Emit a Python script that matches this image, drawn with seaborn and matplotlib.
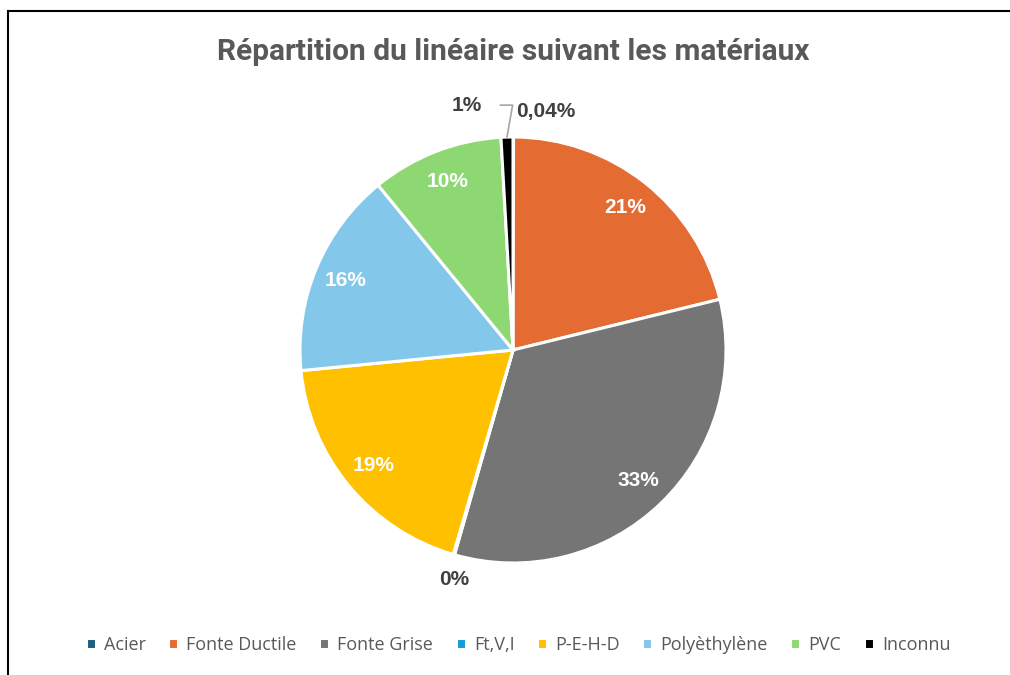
import numpy as np
import matplotlib
matplotlib.use("Agg")
import matplotlib.pyplot as plt
from matplotlib.patches import Rectangle
import seaborn as sns

# ---------------  Data  ---------------
materials = ['Acier', 'Fonte Ductile', 'Fonte Grise', 'Ft,V,I',
             'P-E-H-D', 'Polyèthylène', 'PVC', 'Inconnu']
shares = [0.04, 21.1, 33.2, 0.1, 18.9, 15.6, 10.0, 0.9]
pct_labels = ['0,04%', '21%', '33%', '0%', '19%', '16%', '10%', '1%']
colors = ['#1F5F80', '#E46C32', '#757575', '#0F9ED5',
          '#FFC000', '#83C8EA', '#8ED874', '#000000']

# ---------------  Style  ---------------
sns.set_theme(style='white')
plt.rcParams['font.family'] = ['Open Sans', 'DejaVu Sans']
palette = sns.color_palette(colors)

fig = plt.figure(figsize=(10.1, 6.75), dpi=100)
W, H = 1010, 675
cx, cy, r = 513, 350, 213
ax = fig.add_axes([(cx - r) / W, (H - cy - r) / H, 2 * r / W, 2 * r / H])

wedges, _ = ax.pie(shares, colors=palette, startangle=90, counterclock=False,
                   wedgeprops=dict(edgecolor='white', linewidth=2.2))
ax.set_xlim(-1, 1)
ax.set_ylim(-1, 1)
ax.set_aspect('equal')
ax.axis('off')

# ---------------  Labels  ---------------
lab_font = dict(family='Liberation Sans', fontweight='bold', fontsize=15)
for i, w in enumerate(wedges):
    mid = np.deg2rad((w.theta1 + w.theta2) / 2)
    if shares[i] >= 5:
        ax.text(0.85 * np.cos(mid), 0.85 * np.sin(mid), pct_labels[i],
                color='white', ha='center', va='center', **lab_font)

# small slices labelled outside
dark = '#404040'
mid = np.deg2rad((wedges[0].theta1 + wedges[0].theta2) / 2)
ax.text(1.12 * np.cos(mid) + 0.15, 1.12 * np.sin(mid), pct_labels[0],
        color=dark, ha='center', va='center', **lab_font)

mid = np.deg2rad((wedges[3].theta1 + wedges[3].theta2) / 2)
ax.text(1.1 * np.cos(mid) + 0.03, 1.1 * np.sin(mid) - 0.02, pct_labels[3],
        color=dark, ha='center', va='center', **lab_font)

mid = np.deg2rad((wedges[7].theta1 + wedges[7].theta2) / 2)
tip = (np.cos(mid), np.sin(mid))
ax.annotate(pct_labels[7], xy=tip, xytext=(tip[0] - 0.19, tip[1] + 0.15),
            color=dark, ha='center', va='center', **lab_font,
            arrowprops=dict(arrowstyle='-', color='#A6A6A6', lw=1.2,
                            shrinkA=11, shrinkB=0,
                            connectionstyle='angle,angleA=0,angleB=80,rad=0'))

# ---------------  Title, legend, frame  ---------------
fig.text(cx / W, 1 - 52 / H, 'Répartition du linéaire suivant les matériaux',
         ha='center', va='center', fontsize=21.5, fontweight='bold',
         color='#595959', family='Roboto')

fig.legend(wedges, materials, loc='center', bbox_to_anchor=(518 / W, 1 - 645 / H),
           ncol=len(materials), frameon=False, fontsize=13,
           handlelength=0.55, handleheight=0.55, handletextpad=0.45,
           columnspacing=1.25, labelcolor='#595959')

fig.patches.append(Rectangle((8 / W, -0.1), 1.2, 1 - 11 / H + 0.1,
                             transform=fig.transFigure, fill=False,
                             edgecolor='black', linewidth=1.5))

fig.savefig('out.png', dpi=100, facecolor='white')
